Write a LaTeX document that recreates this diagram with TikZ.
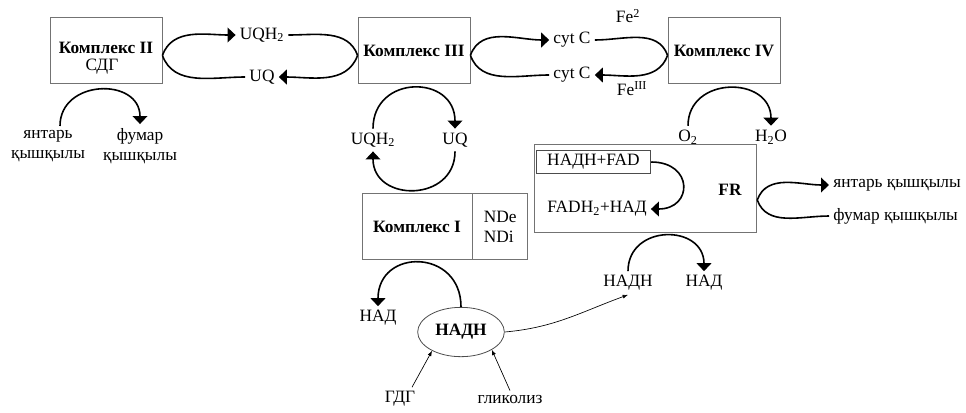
\documentclass[tikz,border=0pt]{standalone}
\usepackage{fontspec}
\setmainfont{Liberation Serif}
\usetikzlibrary{arrows.meta,shapes.geometric}

\tikzset{
  cbox/.style={draw=black!55, line width=0.6pt, minimum width=84pt, minimum height=49.5pt, inner sep=0pt},
  txt/.style={font=\fontsize{13}{15}\selectfont, inner sep=3pt},
  btxt/.style={txt, font=\fontsize{13}{15}\selectfont\bfseries},
  flow/.style={line width=1.2pt, -{Triangle[length=6pt,width=11pt]}},
  link/.style={line width=1.2pt},
  feed/.style={line width=0.5pt, -{Latex[length=4pt,width=3pt]}},
}

\begin{document}
\begin{tikzpicture}[x=0.75pt, y=-0.75pt]
  \useasboundingbox (0,0) rectangle (966,412);

  % Complexes II, III, IV
  \node[cbox] (c2) at (106,50) {};
  \node[btxt] (c2t) at (106,48) {Комплекс II};
  \node[txt] (c2s) at (102,67) {СДГ};
  \node[cbox] (c3) at (414,50) {};
  \node[btxt] (c3t) at (414,51) {Комплекс III};
  \node[cbox] (c4) at (724,50) {};
  \node[btxt] (c4t) at (724,51) {Комплекс IV};

  % Ubiquinone loop between II and III
  \node[txt] (uqh) at (262,35) {UQH\textsubscript{2}};
  \node[txt] (uq) at (262,77) {UQ};
  \draw[flow] ([yshift=-4pt]c2.east) to[out=70,in=180] (uqh.west);
  \draw[link] (uq.west) to[out=180,in=-70] ([yshift=-4pt]c2.east);
  \draw[link] (uqh.east) to[out=0,in=110] ([yshift=-4pt]c3.west);
  \draw[flow] ([yshift=-4pt]c3.west) to[out=-110,in=0] (uq.east);

  % Cytochrome c loop between III and IV
  \node[txt] (cyt1) at (572,40) {cyt C};
  \node[txt] (cyt2) at (572,75) {cyt C};
  \node[txt] (fe2) at (628,16) {Fe\textsuperscript{2}};
  \node[txt] (fe3) at (632,89) {Fe\textsuperscript{III}};
  \draw[flow] ([yshift=-4pt]c3.east) to[out=70,in=180] (cyt1.west);
  \draw[link] (cyt1.east) to[out=0,in=110] ([yshift=-4pt]c4.west);
  \draw[flow] ([yshift=-4pt]c4.west) to[out=-110,in=0] (cyt2.east);
  \draw[link] (cyt2.west) to[out=180,in=-70] ([yshift=-4pt]c3.east);

  % Succinate to fumarate under complex II
  \node[txt, align=center] (yant) at (48,146) {янтарь\\қышқылы};
  \node[txt, align=center] (fum) at (140,146) {фумар\\қышқылы};
  \draw[flow] ([xshift=9pt]yant.north) to[out=90,in=90,looseness=1.5] (fum.north);

  % Q cycle under complex III
  \node[txt] (uqhb) at (373,140) {UQH\textsubscript{2}};
  \node[txt] (uqb) at (455,140) {UQ};
  \draw[flow] (uqhb.north) to[out=90,in=90,looseness=1.7] (uqb.north);
  \draw[flow] (uqb.south) to[out=-90,in=-90,looseness=1.6] (uqhb.south);

  % Oxygen reduction under complex IV
  \node[txt] (o2) at (688,137) {O\textsubscript{2}};
  \node[txt] (h2o) at (771,137) {H\textsubscript{2}O};
  \draw[flow] (o2.north) to[out=90,in=90,looseness=1.55] (h2o.north);

  % Complex I with NDe / NDi
  \node[cbox, minimum width=82.5pt, minimum height=50pt] (c1) at (417,226.5) {};
  \node[btxt] (c1t) at (c1) {Комплекс I};
  \node[cbox, minimum width=41pt, minimum height=50pt, anchor=west] (nd) at (c1.east) {};
  \node[txt, align=left] (ndt) at (nd) {NDe\\NDi};

  % NADH pool
  \node[btxt, ellipse, draw=black!70, line width=0.6pt, minimum width=65pt, minimum height=37pt] (nadhe) at (461,332) {НАДН};
  \node[txt] (nad1) at (378,318) {НАД};
  \draw[flow] (nadhe.north) to[out=90,in=90,looseness=1.8] (nad1.north);
  \node[txt] (gdg) at (400,399) {ГДГ};
  \node[txt] (gliko) at (510,399) {гликолиз};
  \draw[feed] ([xshift=9pt]gdg.north) -- (nadhe.-147);
  \draw[feed] (gliko.north) -- (nadhe.-30);

  % Fumarate reductase
  \node[cbox, minimum width=167pt, minimum height=66pt] (fr) at (645.5,188) {};
  \node[btxt] (frt) at (730,190) {FR};
  \node[txt, draw=black!70, line width=0.6pt, minimum width=86pt, minimum height=17pt, inner sep=1pt] (nf) at (593.5,162) {НАДН+FAD};
  \node[txt] (fadh) at (597,209) {FADH\textsubscript{2}+НАД};
  \draw[flow] (nf.east) to[out=0,in=0,looseness=2.3] (fadh.east);

  % Fumarate / succinate at FR
  \node[txt, anchor=west] (yk) at (829,185) {янтарь қышқылы};
  \node[txt, anchor=west] (fk) at (829,216) {фумар қышқылы};
  \draw[flow] ([yshift=-9pt]fr.east) to[out=70,in=180] (yk.west);
  \draw[link] (fk.west) to[out=180,in=-70] ([yshift=-9pt]fr.east);

  % NADH oxidation under FR
  \node[txt] (nadh2) at (628,283) {НАДН};
  \node[txt] (nad2) at (704,283) {НАД};
  \draw[flow] (nadh2.north) to[out=90,in=90,looseness=1.6] (nad2.north);
  \draw[feed] (nadhe.east) to[out=5,in=-160] (nadh2.south);

\end{tikzpicture}
\end{document}
